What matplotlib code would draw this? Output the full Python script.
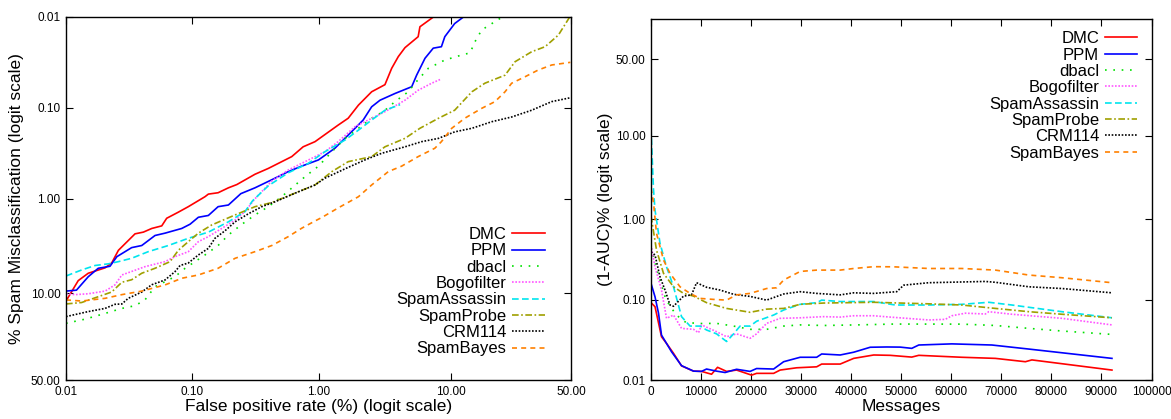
import numpy as np
import matplotlib
matplotlib.use("Agg")
import matplotlib.pyplot as plt
from matplotlib.ticker import FixedLocator, FuncFormatter

plt.rcParams['font.family'] = ['Liberation Sans', 'DejaVu Sans']

names = ["DMC", "PPM", "dbacl", "Bogofilter", "SpamAssassin", "SpamProbe", "CRM114", "SpamBayes"]
colors = ["#ff0000", "#0000ff", "#00e000", "#ff55ff", "#00e5ee", "#a0a000", "#000000", "#ff8000"]
styles = ["-", "-", (0, (1, 4)), (0, (1, 1)), (0, (4, 2)), (0, (4, 1.5, 1, 1.5)), (0, (1, 1)), (0, (3, 2.5))]

# ROC curves: false positive rate (%) vs spam misclassification (%)
roc_fpr = {
    "DMC": [0.01, 0.0125, 0.015, 0.0204, 0.023, 0.026, 0.0284, 0.0352, 0.041, 0.0478, 0.0573, 0.0627, 0.0775, 0.093, 0.126, 0.134, 0.160, 0.193, 0.225, 0.313, 0.399, 0.61, 0.75, 0.93, 1.41, 1.69, 2.03, 2.57, 3.25, 3.66, 4.11, 4.62, 5.8, 5.98, 7.5],
    "PPM": [0.01, 0.0121, 0.015, 0.018, 0.0223, 0.0253, 0.0331, 0.0398, 0.0507, 0.0608, 0.0825, 0.096, 0.1117, 0.134, 0.160, 0.193, 0.242, 0.313, 0.425, 0.573, 0.73, 0.99, 1.33, 1.50, 1.91, 2.21, 2.57, 2.98, 3.88, 5.19, 5.65, 6.52, 7.5, 8.6, 9.1, 10.7, 12.3],
    "dbacl": [0.01, 0.0142, 0.0204, 0.0277, 0.0352, 0.0422, 0.0507, 0.0608, 0.073, 0.0877, 0.105, 0.126, 0.160, 0.193, 0.242, 0.313, 0.399, 0.508, 0.776, 0.99, 1.26, 1.60, 2.03, 2.57, 3.16, 3.88, 4.89, 5.49, 6.9, 9.1, 12.0, 13.7, 14.8, 16.4, 19.1, 22.0],
    "Bogofilter": [0.01, 0.0118, 0.015, 0.0204, 0.0244, 0.0277, 0.0331, 0.0422, 0.0608, 0.073, 0.093, 0.1117, 0.134, 0.171, 0.218, 0.261, 0.313, 0.425, 0.573, 0.776, 1.11, 1.41, 1.91, 2.42, 3.25, 4.62, 5.8, 7.3, 8.55],
    "SpamAssassin": [0.01, 0.0133, 0.017, 0.0216, 0.026, 0.0331, 0.0448, 0.0646, 0.093, 0.134, 0.193, 0.261, 0.30, 0.40, 0.573, 0.823, 1.11, 1.60, 2.03, 2.57, 3.25, 4.24],
    "SpamProbe": [0.01, 0.0133, 0.018, 0.023, 0.0277, 0.0331, 0.0398, 0.0507, 0.0667, 0.0775, 0.093, 0.1117, 0.142, 0.218, 0.313, 0.425, 0.573, 0.93, 1.26, 1.69, 2.57, 3.25, 4.62, 5.98, 8.2, 10.7, 14.1, 17.2, 23.1, 26.5, 32.8, 38.4, 44.3, 49.5],
    "CRM114": [0.01, 0.015, 0.0204, 0.0244, 0.0277, 0.0311, 0.0398, 0.0478, 0.0608, 0.073, 0.080, 0.093, 0.1117, 0.134, 0.151, 0.181, 0.218, 0.277, 0.354, 0.45, 0.648, 0.93, 1.11, 1.60, 2.28, 3.07, 4.62, 6.16, 8.2, 10.7, 14.1, 19.1, 25.3, 32.8, 41.3, 49.7],
    "SpamBayes": [0.01, 0.0133, 0.0204, 0.0277, 0.0398, 0.0608, 0.0825, 0.1117, 0.160, 0.218, 0.313, 0.425, 0.573, 0.73, 0.925, 1.05, 1.41, 2.03, 2.57, 3.45, 4.36, 5.8, 7.7, 8.6, 10.2, 12.6, 16.4, 20.0, 23.1, 25.3, 30.2, 35.5, 41.3, 49.7],
}
roc_fn = {
    "DMC": [11.9, 7.45, 6.26, 5.5, 4.9, 3.6, 3.2, 2.4, 2.3, 2.1, 1.97, 1.63, 1.40, 1.22, 0.95, 0.89, 0.86, 0.76, 0.70, 0.54, 0.466, 0.346, 0.27, 0.237, 0.156, 0.131, 0.094, 0.067, 0.056, 0.037, 0.0275, 0.0219, 0.0166, 0.0129, 0.0101],
    "PPM": [9.5, 9.3, 6.8, 5.56, 5.3, 4.2, 3.37, 3.2, 2.5, 2.36, 2.1, 1.89, 1.59, 1.52, 1.22, 1.17, 0.88, 0.76, 0.62, 0.505, 0.44, 0.376, 0.28, 0.237, 0.169, 0.137, 0.098, 0.083, 0.070, 0.059, 0.044, 0.0287, 0.0222, 0.0214, 0.0166, 0.0119, 0.0101],
    "dbacl": [19.2, 17.6, 15.6, 14.0, 13.2, 11.6, 8.58, 7.64, 6.78, 5.56, 4.74, 4.03, 3.2, 2.47, 1.93, 1.50, 1.22, 0.95, 0.574, 0.44, 0.306, 0.218, 0.169, 0.131, 0.111, 0.086, 0.067, 0.054, 0.037, 0.030, 0.0264, 0.025, 0.0188, 0.0140, 0.0119, 0.0102],
    "Bogofilter": [10.1, 10.3, 10.1, 9.5, 8.24, 6.52, 6.0, 5.35, 4.74, 4.2, 3.72, 2.91, 2.57, 2.1, 1.70, 1.38, 1.0, 0.64, 0.485, 0.393, 0.306, 0.237, 0.162, 0.137, 0.111, 0.083, 0.0645, 0.054, 0.0486],
    "SpamAssassin": [6.68, 5.79, 5.2, 5.0, 4.74, 4.37, 3.72, 3.2, 2.68, 2.3, 1.78, 1.38, 1.05, 0.72, 0.52, 0.41, 0.306, 0.227, 0.177, 0.137, 0.107, 0.093],
    "SpamProbe": [12.7, 12.3, 10.8, 9.7, 7.74, 7.3, 6.26, 5.56, 4.74, 3.6, 2.91, 2.36, 1.93, 1.50, 1.22, 1.10, 0.93, 0.707, 0.505, 0.393, 0.346, 0.27, 0.218, 0.169, 0.131, 0.107, 0.067, 0.054, 0.044, 0.0313, 0.0243, 0.0214, 0.0159, 0.01],
    "CRM114": [16.7, 15.0, 14.0, 12.8, 12.7, 11.2, 9.7, 8.2, 7.34, 6.02, 5.2, 4.9, 4.03, 3.43, 2.68, 2.23, 1.78, 1.46, 1.22, 1.08, 0.87, 0.707, 0.597, 0.47, 0.376, 0.318, 0.27, 0.237, 0.218, 0.185, 0.169, 0.143, 0.127, 0.107, 0.086, 0.078],
    "SpamBayes": [11.6, 11.9, 11.2, 10.3, 9.5, 8.24, 7.05, 6.52, 5.56, 4.37, 3.72, 3.2, 2.57, 2.09, 1.75, 1.6, 1.26, 0.95, 0.707, 0.505, 0.44, 0.346, 0.28, 0.237, 0.169, 0.131, 0.102, 0.086, 0.067, 0.054, 0.0458, 0.0386, 0.034, 0.0318],
}

# learning curves: messages vs (1-AUC)%
lc_msgs = {
    "DMC": [0, 800, 2100, 3100, 4500, 6100, 8500, 10100, 12100, 13300, 15100, 17100, 20100, 21100, 24500, 25800, 29100, 33100, 34100, 37800, 40500, 44500, 47800, 52100, 53500, 62100, 68800, 74800, 76100, 92100],
    "PPM": [0, 800, 1500, 2100, 4100, 6100, 8500, 10100, 11100, 13100, 14800, 17100, 19800, 21100, 24500, 26500, 29800, 33100, 34100, 37800, 40500, 43800, 47100, 49800, 52100, 53500, 60100, 68100, 75500, 92100],
    "dbacl": [0, 1500, 3000, 5000, 7000, 9800, 13100, 16500, 19800, 23100, 26500, 29800, 34500, 41100, 48500, 62100, 68800, 75500, 82100, 92100],
    "Bogofilter": [0, 800, 2100, 3100, 4500, 6100, 8500, 9500, 10100, 13100, 15100, 17100, 19800, 21100, 23100, 25800, 29800, 34500, 37800, 40500, 44500, 47800, 55500, 58800, 60100, 62800, 66800, 67500, 72100, 82100, 92100],
    "SpamAssassin": [0, 500, 800, 1800, 3100, 4500, 6100, 7800, 9800, 11100, 13100, 15100, 16500, 17800, 19800, 21100, 24500, 26500, 29800, 33100, 34100, 37800, 44500, 48800, 55500, 62100, 67500, 72100, 82100, 92100],
    "SpamProbe": [0, 1100, 2500, 4500, 6500, 8500, 11100, 15100, 19800, 23100, 26500, 29800, 34500, 44500, 49800, 55500, 62100, 68800, 75500, 82100, 92100],
    "CRM114": [0, 800, 1800, 2800, 3800, 4500, 6500, 8100, 9100, 11100, 13800, 16500, 19800, 23100, 26500, 29800, 33100, 37800, 40500, 44500, 49100, 50500, 55500, 66800, 68800, 75500, 82100, 92100],
    "SpamBayes": [0, 500, 1100, 2500, 3800, 5800, 7800, 9800, 12500, 15100, 17100, 19800, 23100, 25100, 26500, 29800, 33100, 37800, 40500, 44500, 48500, 55500, 62100, 68800, 75500, 82100, 92100],
}
lc_auc = {
    "DMC": [0.092, 0.082, 0.0346, 0.0286, 0.0215, 0.015, 0.0129, 0.0128, 0.0118, 0.0144, 0.0128, 0.0133, 0.0115, 0.0121, 0.0121, 0.0133, 0.0142, 0.0146, 0.0158, 0.0158, 0.0186, 0.0205, 0.0203, 0.0193, 0.0203, 0.0192, 0.0186, 0.0169, 0.0178, 0.0133],
    "PPM": [0.16, 0.109, 0.068, 0.0363, 0.0225, 0.0151, 0.0129, 0.0128, 0.0137, 0.0129, 0.0124, 0.0136, 0.0128, 0.0139, 0.0137, 0.0169, 0.0192, 0.0192, 0.0211, 0.0205, 0.0222, 0.0256, 0.0258, 0.0257, 0.0248, 0.0273, 0.0282, 0.0273, 0.0243, 0.0186],
    "dbacl": [0.45, 0.2, 0.1, 0.065, 0.052, 0.0506, 0.0508, 0.047, 0.0428, 0.0428, 0.047, 0.0486, 0.0478, 0.0486, 0.0498, 0.0497, 0.0478, 0.044, 0.0408, 0.037],
    "Bogofilter": [0.48, 0.257, 0.132, 0.0587, 0.0645, 0.044, 0.0428, 0.0388, 0.0486, 0.040, 0.0346, 0.0376, 0.0331, 0.0376, 0.0508, 0.0587, 0.0596, 0.0616, 0.0608, 0.0632, 0.0632, 0.0608, 0.056, 0.057, 0.0632, 0.068, 0.0665, 0.071, 0.066, 0.0587, 0.0486],
    "SpamAssassin": [12.1, 2.3, 1.3, 0.504, 0.257, 0.145, 0.0616, 0.047, 0.047, 0.042, 0.0376, 0.0302, 0.0376, 0.047, 0.047, 0.054, 0.0645, 0.0745, 0.0877, 0.092, 0.099, 0.095, 0.095, 0.086, 0.086, 0.0877, 0.093, 0.086, 0.071, 0.0596],
    "SpamProbe": [1.1, 0.415, 0.213, 0.145, 0.12, 0.111, 0.092, 0.078, 0.0698, 0.0764, 0.078, 0.0877, 0.091, 0.093, 0.091, 0.089, 0.086, 0.078, 0.071, 0.066, 0.0596],
    "CRM114": [0.395, 0.36, 0.193, 0.132, 0.086, 0.083, 0.111, 0.115, 0.163, 0.143, 0.132, 0.117, 0.11, 0.099, 0.118, 0.126, 0.12, 0.115, 0.122, 0.12, 0.126, 0.152, 0.163, 0.169, 0.165, 0.145, 0.138, 0.122],
    "SpamBayes": [2.4, 1.6, 0.67, 0.312, 0.213, 0.145, 0.12, 0.104, 0.101, 0.099, 0.115, 0.12, 0.138, 0.141, 0.176, 0.225, 0.234, 0.234, 0.245, 0.258, 0.257, 0.245, 0.245, 0.234, 0.203, 0.188, 0.163],
}

pct_ticks = [0.01, 0.1, 1, 10, 50]
msg_ticks = list(range(0, 100001, 10000))


def logit_pct(p):
    p = np.clip(np.asarray(p, dtype=float), 1e-6, 100 - 1e-6)
    return np.log(p / (100 - p))


def inv_logit_pct(u):
    return 100.0 / (1.0 + np.exp(-np.asarray(u, dtype=float)))


fig = plt.figure(figsize=(11.71, 4.19), dpi=100)
ax1 = fig.add_axes([66 / 1171, 1 - 380 / 419, 505 / 1171, 363.3 / 419])
ax2 = fig.add_axes([651 / 1171, 1 - 380 / 419, 500.5 / 1171, 361 / 419])

for n, c, s in zip(names, colors, styles):
    ax1.plot(roc_fpr[n], roc_fn[n], color=c, linestyle=s, lw=1.2, label=n)
    ax2.plot(lc_msgs[n], lc_auc[n], color=c, linestyle=s, lw=1.2, label=n)

fmt = FuncFormatter(lambda v, pos: "%.2f" % v)

ax1.set_xscale("function", functions=(logit_pct, inv_logit_pct))
ax1.set_yscale("function", functions=(logit_pct, inv_logit_pct))
ax1.set_xlim(0.01, 50)
ax1.set_ylim(50, 0.01)
ax1.xaxis.set_major_locator(FixedLocator(pct_ticks))
ax1.yaxis.set_major_locator(FixedLocator(pct_ticks))
ax1.xaxis.set_major_formatter(fmt)
ax1.yaxis.set_major_formatter(fmt)
ax1.set_xlabel("False positive rate (%) (logit scale)", fontsize=12.5, labelpad=1)
ax1.set_ylabel("% Spam Misclassification (logit scale)", fontsize=12.5, labelpad=5)

ax2.set_yscale("function", functions=(logit_pct, inv_logit_pct))
ax2.set_xlim(0, 100000)
ax2.set_ylim(0.01, 76)
ax2.xaxis.set_major_locator(FixedLocator(msg_ticks))
ax2.yaxis.set_major_locator(FixedLocator(pct_ticks))
ax2.yaxis.set_major_formatter(fmt)
ax2.xaxis.set_major_formatter(FuncFormatter(lambda v, pos: "%d" % v))
ax2.set_xlabel("Messages", fontsize=12.5, labelpad=1)
ax2.set_ylabel("(1-AUC)% (logit scale)", fontsize=12.5, labelpad=2)

for ax in (ax1, ax2):
    ax.minorticks_off()
    ax.tick_params(direction="in", top=True, right=True, length=5, width=0.8,
                   labelsize=8.5, pad=4)
    for sp in ax.spines.values():
        sp.set_linewidth(1.0)

leg_kw = dict(frameon=False, markerfirst=False, fontsize=12, handlelength=1.95,
              handletextpad=0.35, labelspacing=0.08, borderpad=0, borderaxespad=0)
ax1.legend(loc="upper right", bbox_to_anchor=(0.948, 0.421), **leg_kw)
ax2.legend(loc="upper right", bbox_to_anchor=(0.972, 0.966), **leg_kw)

fig.savefig("out.png", dpi=100)
